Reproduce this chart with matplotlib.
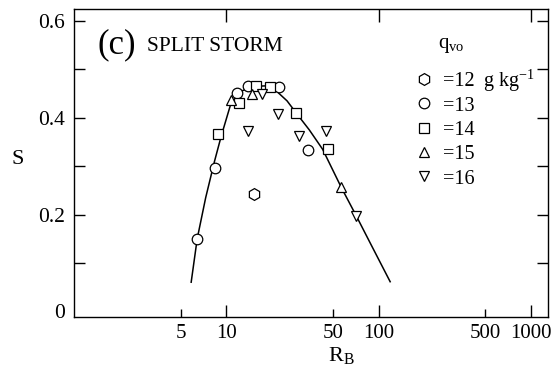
import matplotlib
matplotlib.use("Agg")
import matplotlib.pyplot as plt
from matplotlib.ticker import FixedLocator, NullFormatter, FixedFormatter

plt.rcParams['font.family'] = ['Liberation Serif', 'DejaVu Serif']
plt.rcParams['mathtext.fontset'] = 'custom'
plt.rcParams['mathtext.rm'] = 'Liberation Serif'
plt.rcParams['mathtext.it'] = 'Liberation Serif:italic'

# ---- data ----
q12_x = [15.1]
q12_y = [0.243]
q13_x = [6.42, 8.34, 11.8, 13.9, 22.0, 34.3]
q13_y = [0.149, 0.297, 0.451, 0.466, 0.464, 0.333]
q14_x = [8.77, 12.05, 15.7, 19.2, 28.7, 46.4]
q14_y = [0.366, 0.430, 0.466, 0.464, 0.410, 0.335]
q15_x = [10.7, 14.8, 56.8]
q15_y = [0.437, 0.449, 0.256]
q16_x = [13.8, 17.2, 21.8, 30.0, 44.8, 71.3]
q16_y = [0.373, 0.449, 0.407, 0.363, 0.373, 0.197]

curve_x = [5.86, 6.42, 7.3, 8.34, 9.23, 10.7, 12.5, 15.0, 18.0, 21.0, 25.0,
           28.7, 35.0, 42.8, 56.8, 71.3, 90.0, 119.0]
curve_y = [0.06, 0.15, 0.235, 0.31, 0.362, 0.43, 0.455, 0.465, 0.466, 0.457,
           0.435, 0.41, 0.375, 0.335, 0.256, 0.197, 0.135, 0.061]

legend_labels = ['=12', '=13', '=14', '=15', '=16']
x_major = [10, 100, 1000]
x_minor = [5, 50, 500]
y_major = [0, 0.2, 0.4, 0.6]
y_minor = [0.1, 0.3, 0.5]

# ---- figure ----
fig = plt.figure(figsize=(5.58, 3.72), dpi=100)
ax = fig.add_axes([0.1332, 0.1478, 0.8483, 0.828])

ax.plot(curve_x, curve_y, color='black', lw=1.1, zorder=2)

mk = dict(mfc='white', mec='black', mew=0.9, ls='none', zorder=3)
series = [
    (q12_x, q12_y, 'h', 8.5),
    (q13_x, q13_y, 'o', 7.6),
    (q14_x, q14_y, 's', 7.6),
    (q15_x, q15_y, '^', 6.8),
    (q16_x, q16_y, 'v', 6.8),
]
handles = []
for (xs, ys, m, s), lab in zip(series, legend_labels):
    h, = ax.plot(xs, ys, marker=m, ms=s, label=lab, **mk)
    handles.append(h)

ax.set_xscale('log')
ax.set_xlim(1, 1290)
ax.set_ylim(-0.012, 0.625)

ax.xaxis.set_major_locator(FixedLocator(x_major))
ax.xaxis.set_minor_locator(FixedLocator(x_minor))
ax.xaxis.set_major_formatter(FixedFormatter([str(v) for v in x_major]))
ax.xaxis.set_minor_formatter(FixedFormatter([str(v) for v in x_minor]))
ax.yaxis.set_major_locator(FixedLocator(y_major))
ax.yaxis.set_minor_locator(FixedLocator(y_minor))
ax.yaxis.set_major_formatter(FixedFormatter(['0', '0.2', '0.4', '0.6']))
ax.yaxis.set_minor_formatter(NullFormatter())

ax.tick_params(axis='x', which='major', direction='in', length=9, width=1.0,
               top=True, labelsize=15, pad=5)
ax.tick_params(axis='x', which='minor', direction='in', length=5.8, width=1.0,
               top=False, labelsize=15, pad=5)
ax.tick_params(axis='y', which='both', direction='in', length=7.7, width=1.0,
               right=True, labelsize=15.5, pad=7)
for t in ax.yaxis.get_major_ticks()[:1]:
    t.tick1line.set_visible(False)
    t.tick2line.set_visible(False)

for sp in ax.spines.values():
    sp.set_linewidth(1.0)

ax.set_xlabel(r'R$_{\mathrm{B}}$', fontsize=16)
ax.xaxis.set_label_coords(0.563, -0.09)
ax.set_ylabel('S', fontsize=16, rotation=0)
ax.yaxis.set_label_coords(-0.119, 0.48)

ax.text(0.048, 0.856, '(c)', transform=ax.transAxes, fontsize=25,
        ha='left', va='baseline')
ax.text(0.154, 0.865, 'SPLIT STORM', transform=ax.transAxes, fontsize=15.5,
        ha='left', va='baseline')

leg = ax.legend(handles=handles, loc='upper left', bbox_to_anchor=(0.687, 0.841),
                frameon=False, fontsize=14.5, handlelength=1.0,
                handletextpad=0.45, labelspacing=0.26, borderpad=0.2,
                numpoints=1)

ax.text(0.797, 0.883, r'q$_{\mathrm{vo}}$', transform=ax.transAxes,
        fontsize=15, ha='center', va='center')
ax.text(0.863, 0.766, r'g kg$^{\mathrm{-1}}$', transform=ax.transAxes,
        fontsize=14.5, ha='left', va='center')

fig.savefig('out.png', dpi=100)
